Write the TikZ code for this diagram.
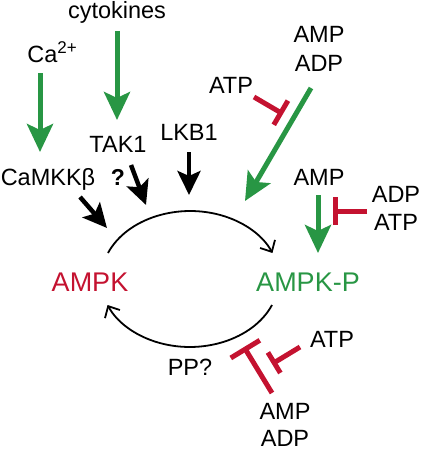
\documentclass[tikz,border=0pt]{standalone}
\usepackage{fontspec}
\setmainfont{Liberation Sans}
\usetikzlibrary{arrows.meta}
\definecolor{agreen}{RGB}{40,150,68}
\definecolor{ared}{RGB}{196,18,48}
\begin{document}
\begin{tikzpicture}[x=1pt,y=-1pt,
  lbl/.style={inner sep=0pt,anchor=base,font=\fontsize{23.5}{27}\selectfont},
  big/.style={inner sep=0pt,anchor=base,font=\fontsize{27}{30}\selectfont},
  garrow/.style={draw=agreen,line width=5pt,-{Stealth[length=28pt,width=26pt,inset=6pt]}},
  barrow/.style={draw=black,line width=4.5pt,-{Stealth[length=24pt,width=23pt,inset=5pt]}},
  inhib/.style={draw=ared,line width=5pt,-{Bar[width=#1]}},
  cyc/.style={draw=black,line width=1.8pt,-{Straight Barb[length=9pt,width=17pt,line width=1.8pt]}}
]
\useasboundingbox (0,0) rectangle (420,452);
% labels
\node[lbl] (cyto) at (117,19) {cytokines};
\node[lbl] (ca) at (52,63) {Ca\raisebox{9pt}{\fontsize{17}{17}\selectfont 2+}};
\node[lbl] (tak) at (118,152) {TAK1};
\node[lbl] (lkb) at (189,140) {LKB1};
\node[lbl] (camkk) at (48,185) {CaMKKβ};
\node[lbl,font=\fontsize{23}{27}\selectfont\bfseries] (q) at (118,185) {?};
\node[lbl] (atp1) at (231,93) {ATP};
\node[lbl] (amp1) at (319,42) {AMP};
\node[lbl] (adp1) at (319,71) {ADP};
\node[lbl] (amp2) at (319,185) {AMP};
\node[lbl] (adp2) at (396,202) {ADP};
\node[lbl] (atp2) at (396,230) {ATP};
\node[big,text=ared] (ampk) at (90,291) {AMPK};
\node[big,text=agreen] (ampkp) at (308,291) {AMPK-P};
\node[lbl] (pp) at (190,375) {PP?};
\node[lbl] (atp3) at (332,347) {ATP};
\node[lbl] (amp3) at (285,419) {AMP};
\node[lbl] (adp3) at (285,446) {ADP};
% connector end points
\coordinate (caS) at (40,73);   \coordinate (caE) at (40,152);
\coordinate (cyS) at (117,31);  \coordinate (cyE) at (117,120);
\coordinate (takS) at (131,165); \coordinate (takE) at (146,205);
\coordinate (lkbS) at (189,152); \coordinate (lkbE) at (189,195);
\coordinate (cmS) at (80,197);  \coordinate (cmE) at (107,228);
\coordinate (gS) at (311,88);   \coordinate (gE) at (245,201);
\coordinate (i1S) at (254,97);  \coordinate (i1E) at (283,114);
\coordinate (g2S) at (318,195); \coordinate (g2E) at (318,253);
\coordinate (i2S) at (367,211); \coordinate (i2E) at (333,211);
\coordinate (i3S) at (272,393); \coordinate (i3E) at (244,347);
\coordinate (i4S) at (300,347); \coordinate (i4E) at (272,364);
\coordinate (u1) at (108,253);
\coordinate (l1) at (272,305);
% arrows
\draw[garrow] (caS) -- (caE);
\draw[garrow] (cyS) -- (cyE);
\draw[barrow] (takS) -- (takE);
\draw[barrow] (lkbS) -- (lkbE);
\draw[barrow] (cmS) -- (cmE);
\draw[garrow] (gS) -- (gE);
\draw[inhib=28pt] (i1S) -- (i1E);
\draw[garrow] (g2S) -- (g2E);
\draw[inhib=28pt] (i2S) -- (i2E);
\draw[inhib=34pt] (i3S) -- (i3E);
\draw[inhib=24pt] (i4S) -- (i4E);
% cycle
\draw[cyc] (u1) arc[start angle=-157.5,end angle=-22.5,x radius=89,y radius=68];
\draw[cyc] (l1) arc[start angle=22.5,end angle=157.5,x radius=89,y radius=68];
\end{tikzpicture}
\end{document}
